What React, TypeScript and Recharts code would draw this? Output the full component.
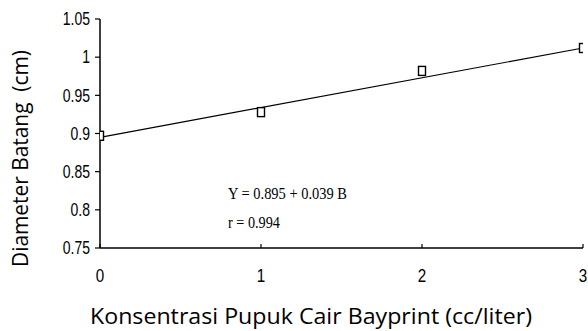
import React from 'react';
import { ScatterChart, Scatter, XAxis, YAxis, ReferenceLine } from 'recharts';

// Stem diameter (cm) at each concentration of Bayprint liquid fertilizer (cc/liter)
const concentration = [0, 1, 2, 3];
const diameter = [0.897, 0.928, 0.982, 1.012];

const xTicks = [0, 1, 2, 3];
const yTicks = [0.75, 0.8, 0.85, 0.9, 0.95, 1, 1.05];

// Fitted regression Y = a + bB
const intercept = 0.895;
const slope = 0.039;
const equationText = 'Y = 0.895 + 0.039 B';
const correlationText = 'r = 0.994';

const xTitle = 'Konsentrasi Pupuk Cair Bayprint (cc/liter)';
const yTitle = 'Diameter Batang  (cm)';

const points = concentration.map((x, i) => ({ x, y: diameter[i] }));
const fitStart = { x: concentration[0], y: intercept + slope * concentration[0] };
const fitEnd = {
  x: concentration[concentration.length - 1],
  y: intercept + slope * concentration[concentration.length - 1],
};

const W = 588;
const H = 331;
const tickFont = "'Liberation Sans', Arial, sans-serif";

const XTick = (props: any) => {
  const { x, y, payload } = props;
  return (
    <g>
      <line x1={x} y1={y} x2={x} y2={y - 4} stroke="#000" strokeWidth={1.2} />
      <text
        transform={`translate(${x},${y + 34}) scale(0.8,1)`}
        textAnchor="middle"
        fontFamily={tickFont}
        fontSize={19}
        fill="#000"
      >
        {payload.value}
      </text>
    </g>
  );
};

const YTick = (props: any) => {
  const { x, y, payload } = props;
  return (
    <g>
      <line x1={x - 5} y1={y} x2={x} y2={y} stroke="#000" strokeWidth={1.2} />
      <text
        transform={`translate(${x - 10},${y}) scale(0.8,1)`}
        dy="0.36em"
        textAnchor="end"
        fontFamily={tickFont}
        fontSize={17.5}
        fill="#000"
      >
        {String(payload.value)}
      </text>
    </g>
  );
};

const SquareMarker = (props: any) => {
  const { cx, cy } = props;
  if (cx == null || cy == null) return null;
  return (
    <rect x={cx - 3.5} y={cy - 4.5} width={7} height={9} fill="#fff" stroke="#000" strokeWidth={1.4} />
  );
};

export default function App() {
  return (
    <div style={{ position: 'absolute', left: 0, top: 0, width: W, height: H, background: '#fff' }}>
      <ScatterChart width={W} height={H} margin={{ top: 19, right: 5, bottom: 0, left: 0 }}>
        <XAxis
          type="number"
          dataKey="x"
          domain={[0, 3]}
          ticks={xTicks}
          height={83}
          tickSize={0}
          tickMargin={0}
          tickLine={false}
          axisLine={{ stroke: '#000', strokeWidth: 1.5 }}
          tick={<XTick />}
          interval={0}
          allowDataOverflow
        />
        <YAxis
          type="number"
          dataKey="y"
          domain={[0.75, 1.05]}
          ticks={yTicks}
          width={100}
          tickSize={0}
          tickMargin={0}
          tickLine={false}
          axisLine={{ stroke: '#000', strokeWidth: 1.5 }}
          tick={<YTick />}
          interval={0}
          allowDataOverflow
        />
        <ReferenceLine
          segment={[fitStart, fitEnd]}
          stroke="#000"
          strokeWidth={1.2}
          ifOverflow="visible"
        />
        <Scatter data={points} shape={<SquareMarker />} isAnimationActive={false} />
      </ScatterChart>
      <svg
        width={W}
        height={H}
        style={{ position: 'absolute', left: 0, top: 0, pointerEvents: 'none' }}
      >
        <text
          x={90}
          y={324}
          textLength={442}
          lengthAdjust="spacingAndGlyphs"
          fontFamily="'Open Sans', 'Noto Sans', sans-serif"
          fontSize={21}
          fill="#000"
        >
          {xTitle}
        </text>
        <text
          transform="translate(28,267) rotate(-90)"
          x={0}
          y={0}
          textLength={217}
          lengthAdjust="spacingAndGlyphs"
          fontFamily="'Open Sans', 'Noto Sans', sans-serif"
          fontSize={21}
          fill="#000"
          xmlSpace="preserve"
        >
          {yTitle}
        </text>
        <text
          x={228}
          y={199}
          textLength={119}
          lengthAdjust="spacingAndGlyphs"
          fontFamily="'Liberation Serif', 'Times New Roman', serif"
          fontSize={16}
          fill="#000"
        >
          {equationText}
        </text>
        <text
          x={228}
          y={228}
          textLength={52}
          lengthAdjust="spacingAndGlyphs"
          fontFamily="'Liberation Serif', 'Times New Roman', serif"
          fontSize={16}
          fill="#000"
        >
          {correlationText}
        </text>
      </svg>
    </div>
  );
}
